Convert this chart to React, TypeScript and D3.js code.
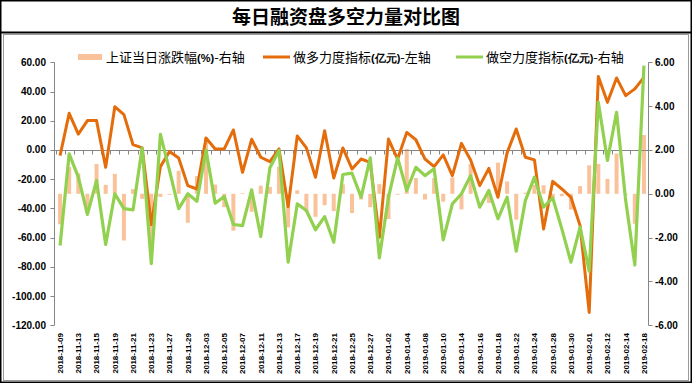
import React from "react";
import * as d3 from "d3";

const dates = [
  "2018-11-09","2018-11-12","2018-11-13","2018-11-14","2018-11-15","2018-11-16","2018-11-19","2018-11-20","2018-11-21","2018-11-22","2018-11-23","2018-11-26","2018-11-27","2018-11-28","2018-11-29","2018-11-30",
  "2018-12-03","2018-12-04","2018-12-05","2018-12-06","2018-12-07","2018-12-10","2018-12-11","2018-12-12","2018-12-13","2018-12-14","2018-12-17","2018-12-18","2018-12-19","2018-12-20","2018-12-21","2018-12-24","2018-12-25","2018-12-26","2018-12-27","2018-12-28",
  "2019-01-02","2019-01-03","2019-01-04","2019-01-07","2019-01-08","2019-01-09","2019-01-10","2019-01-11","2019-01-14","2019-01-15","2019-01-16","2019-01-17","2019-01-18","2019-01-21","2019-01-22","2019-01-23","2019-01-24","2019-01-25","2019-01-28","2019-01-29","2019-01-30","2019-01-31",
  "2019-02-01","2019-02-11","2019-02-12","2019-02-13","2019-02-14","2019-02-15","2019-02-18"
];

// 上证当日涨跌幅(%) - right axis
const sseChange = [
  -1.39, 1.22, 0.93, -0.85, 1.36, 0.41, 0.91, -2.13, 0.21, -0.23,
  -2.49, -0.14, -0.04, 1.05, -1.32, 0.81, 2.57, 0.42, -0.61, -1.68,
  0.03, -0.82, 0.37, 0.31, 1.23, -1.53, 0.16, -0.82, -1.05, -0.52,
  -0.79, 0.43, -0.88, -0.26, -0.61, 0.44, -1.15, -0.04, 2.05, 0.72,
  -0.26, 0.71, -0.36, 0.74, -0.71, 1.36, 0.0, -0.42, 1.42, 0.56,
  -1.18, 0.05, 0.41, 0.39, -0.18, -0.11, -0.72, 0.35, 1.3, 1.36,
  0.68, 1.84, -0.05, -1.37, 2.68
];

// 做多力度指标(亿元) - left axis
const longForce = [
  -3.9, 25.1, 10.9, 20.1, 20.1, -11.9, 29.6, 24.2, 3.6, 1.4,
  -51.1, -11.4, -1.0, -5.5, -24.4, -26.7, 8.2, 0.7, 0.7, 13.7,
  -15.3, 7.3, -5.0, -8.0, 0.7, -38.8, 9.6, 1.4, -18.7, 13.2,
  -19.2, 1.4, -13.0, -6.2, -8.5, -59.8, 7.5, -6.2, 12.0, 7.0,
  -6.2, -11.4, -3.4, -17.6, 4.5, -6.8, -24.4, -12.6, -32.4, -2.0,
  14.4, -5.0, -6.8, -54.1, -21.5, -26.7, -32.4, -51.8, -111.2, 50.2,
  32.6, 49.3, 37.2, 41.8, 49.7
];

// 做空力度指标(亿元) - right axis
const shortForce = [
  -2.36, 1.82, 0.76, -0.94, 0.61, -2.31, 0.0, -0.68, -0.73, 2.1,
  -3.19, 2.71, 1.06, -0.68, 0.0, -0.34, 2.0, -0.43, -0.12, -1.4,
  -1.45, 0.18, -1.95, 1.19, 1.98, -3.12, -0.46, -0.76, -1.64, -1.04,
  -2.21, 0.88, 0.94, -0.15, 1.64, -2.92, -0.15, 1.64, 0.15, 1.21,
  0.83, 1.14, -2.1, -0.46, 0.0, 0.83, -0.61, 0.15, -1.14, -0.15,
  -2.62, -0.31, 0.76, -0.61, -0.18, -1.6, -3.12, -1.52, -3.53, 4.18,
  1.52, 3.72, -0.31, -3.25, 5.85
];

const leftTicks = [60, 40, 20, 0, -20, -40, -60, -80, -100, -120];
const rightTicks = [6, 4, 2, 0, -2, -4, -6];

const title = "每日融资盘多空力量对比图";
const legendItems = [
  { pre: "上证当日涨跌幅", paren: "(%)", post: "-右轴" },
  { pre: "做多力度指标", paren: "(亿元)", post: "-左轴" },
  { pre: "做空力度指标", paren: "(亿元)", post: "-右轴" },
];

const C_BAR = "#F9C29A";
const C_LONG = "#E46C0A";
const C_SHORT = "#92D050";
const C_AXIS = "#868686";

export default function App() {
  const W = 692, H = 383;
  const top = 62.3, bottom = 325.3;
  const left = 55.5, right = 648.5;
  const x = d3.scaleBand<string>().domain(dates).range([left, right]);
  const bw = x.bandwidth();
  const cx = (i: number) => (x(dates[i]) as number) + bw / 2;
  const yL = d3.scaleLinear().domain([-120, 60]).range([bottom, top]);
  const yR = d3.scaleLinear().domain([-6, 6]).range([bottom, top]);

  const lineL = d3.line<number>().x((_, i) => cx(i)).y((d) => yL(d));
  const lineR = d3.line<number>().x((_, i) => cx(i)).y((d) => yR(d));

  const numFont = "'Liberation Sans', Arial, sans-serif";
  const cjkFont = "'Noto Sans CJK SC', sans-serif";
  const barW = 4;
  const axY = yL(0);

  const legendPos = [
    { sx: 78, tx: 106, type: "bar", color: C_BAR },
    { sx: 263, tx: 293, type: "line", color: C_LONG },
    { sx: 456, tx: 486, type: "line", color: C_SHORT },
  ];

  return (
    <svg width={W} height={H} style={{ position: "absolute", left: 0, top: 0, background: "#fff" }}>
      {/* frame */}
      <rect x={0.75} y={0.75} width={W - 1.5} height={H - 1.5} fill="#fff" stroke="#000" strokeWidth={1.5} />
      <line x1={0} x2={W} y1={32.5} y2={32.5} stroke="#000" strokeWidth={2} />
      <rect x={3.5} y={34.5} width={W - 7} height={H - 37} fill="none" stroke="#9a9a9a" strokeWidth={1} />
      <text x={W / 2} y={24} textAnchor="middle" fontFamily={cjkFont} fontWeight="bold" fontSize={19} fill="#000">
        {title}
      </text>

      {/* legend */}
      {legendItems.map((it, k) => {
        const p = legendPos[k];
        return (
          <g key={k}>
            {p.type === "bar" ? (
              <rect x={p.sx} y={54} width={24} height={6} fill={p.color} />
            ) : (
              <line x1={p.sx} x2={p.sx + 27} y1={57} y2={57} stroke={p.color} strokeWidth={3} />
            )}
            <text x={p.tx} y={62} fontFamily={cjkFont} fontSize={13} fill="#000">
              {it.pre}
              <tspan fontFamily={numFont} fontWeight="bold" fontSize={11}>{it.paren}</tspan>
              {it.post}
            </text>
          </g>
        );
      })}

      {/* bars */}
      {sseChange.map((v, i) => (
        <rect
          key={i}
          x={cx(i) - barW / 2}
          y={Math.min(yR(v), yR(0))}
          width={barW}
          height={Math.abs(yR(v) - yR(0))}
          fill={C_BAR}
        />
      ))}

      {/* left axis */}
      <line x1={54.5} x2={54.5} y1={top} y2={bottom} stroke={C_AXIS} strokeWidth={1} />
      {leftTicks.map((t) => (
        <g key={t}>
          <line x1={50.5} x2={54.5} y1={Math.round(yL(t)) + 0.5} y2={Math.round(yL(t)) + 0.5} stroke={C_AXIS} />
          <text x={46} y={yL(t)} dy="0.35em" textAnchor="end" fontFamily={numFont} fontWeight="bold" fontSize={10} fill="#000">
            {t.toFixed(2)}
          </text>
        </g>
      ))}

      {/* right axis */}
      <line x1={648.5} x2={648.5} y1={top} y2={bottom} stroke={C_AXIS} strokeWidth={1} />
      {rightTicks.map((t) => (
        <g key={t}>
          <line x1={648.5} x2={652.5} y1={Math.round(yR(t)) + 0.5} y2={Math.round(yR(t)) + 0.5} stroke={C_AXIS} />
          <text x={655} y={yR(t)} dy="0.35em" textAnchor="start" fontFamily={numFont} fontWeight="bold" fontSize={10} fill="#000">
            {t.toFixed(2)}
          </text>
        </g>
      ))}

      {/* category axis at left zero */}
      <line x1={54.5} x2={648.5} y1={Math.round(axY) + 0.5} y2={Math.round(axY) + 0.5} stroke={C_AXIS} strokeWidth={1} />
      {dates.map((d, i) => {
        const bx = Math.round(x(d) as number) + 0.5;
        return <line key={d} x1={bx} x2={bx} y1={Math.round(axY) + 0.5} y2={Math.round(axY) + 4.5} stroke={C_AXIS} />;
      })}

      {/* lines */}
      <path d={lineL(longForce) || ""} fill="none" stroke={C_LONG} strokeWidth={3} strokeLinejoin="round" />
      <path d={lineR(shortForce) || ""} fill="none" stroke={C_SHORT} strokeWidth={3.2} strokeLinejoin="round" />

      {/* x labels */}
      {dates.map((d, i) =>
        i % 2 === 0 ? (
          <text
            key={d}
            transform={`translate(${cx(i)},333) rotate(-90)`}
            dy="0.35em"
            textAnchor="end"
            fontFamily={numFont}
            fontWeight="bold"
            fontSize={8}
            fill="#000"
          >
            {d}
          </text>
        ) : null
      )}
    </svg>
  );
}
